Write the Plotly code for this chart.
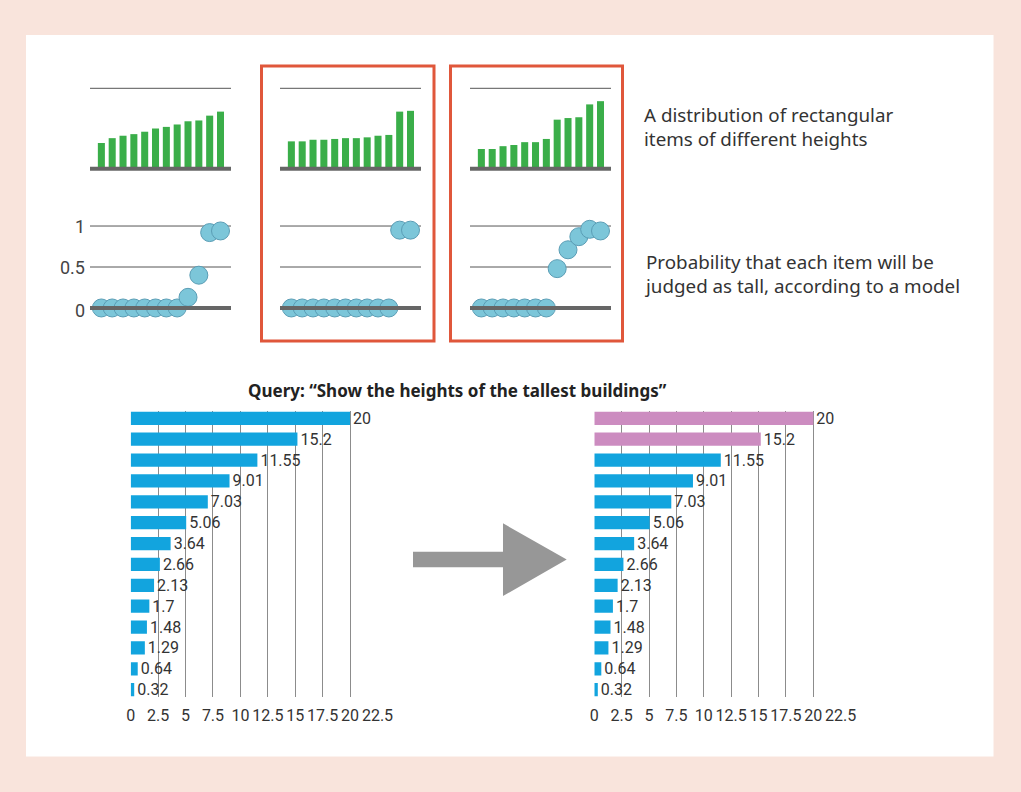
import plotly.graph_objects as go

W, H = 1021, 792

# ---------------- data ----------------
item_index = list(range(12))
heights_a = [0.32, 0.38, 0.41, 0.43, 0.46, 0.50, 0.52, 0.55, 0.59, 0.60, 0.66, 0.71]
heights_b = [0.34, 0.34, 0.36, 0.36, 0.37, 0.38, 0.38, 0.39, 0.41, 0.42, 0.71, 0.72]
heights_c = [0.245, 0.245, 0.28, 0.295, 0.33, 0.33, 0.37, 0.61, 0.63, 0.64, 0.80, 0.84]

prob_a = [0, 0, 0, 0, 0, 0, 0, 0, 0.13, 0.40, 0.92, 0.94]
prob_b = [0, 0, 0, 0, 0, 0, 0, 0, 0, 0, 0.95, 0.95]
prob_c = [0, 0, 0, 0, 0, 0, 0, 0.48, 0.71, 0.87, 0.96, 0.94]

prob_ticks = [0, 0.5, 1]
prob_tick_labels = ["0", "0.5", "1"]

building_heights = [20, 15.2, 11.55, 9.01, 7.03, 5.06, 3.64, 2.66, 2.13, 1.7, 1.48, 1.29, 0.64, 0.32]
building_rank = list(range(len(building_heights)))
n_selected = 2
x_ticks = [0, 2.5, 5, 7.5, 10, 12.5, 15, 17.5, 20, 22.5]
x_tick_labels = ["0", "2.5", "5", "7.5", "10", "12.5", "15", "17.5", "20", "22.5"]

title_text = "Query: \u201cShow the heights of the tallest buildings\u201d"
desc_top = "A distribution of rectangular<br>items of different heights"
desc_bottom = "Probability that each item will be<br>judged as tall, according to a model"

# ---------------- styles ----------------
FONT = "Noto Sans"
NUM_FONT = "Roboto"
TXT = "#333333"
GREEN = "#3aae49"
DOT = "#7cc6d9"
DOT_LINE = "#5a9db5"
BLUE = "#12a4de"
PINK = "#cc8cc0"
RED = "#e0573b"
PINK_BG = "#f9e4dc"


def px(x):
    return x / W


def py(y):
    return 1 - y / H


fig = go.Figure()

top_x_domains = [(90, 231), (280, 421), (470, 611)]
heights_all = [heights_a, heights_b, heights_c]
probs_all = [prob_a, prob_b, prob_c]

layout_axes = {}
shapes = []

for k in range(3):
    xa = k + 1
    xs = "" if xa == 1 else str(xa)
    fig.add_trace(go.Bar(x=item_index, y=heights_all[k], marker=dict(color=GREEN, line=dict(width=0)),
                         width=0.65, xaxis="x" + xs, yaxis="y" + xs, showlegend=False, hoverinfo="skip"))
    d0, d1 = top_x_domains[k]
    layout_axes["xaxis" + xs] = dict(domain=[px(d0), px(d1)], range=[-1.05, 11.97], visible=False,
                                     anchor="y" + xs, fixedrange=True, automargin=False)
    layout_axes["yaxis" + xs] = dict(domain=[py(171.1), py(85.9)], range=[-0.03, 1.03], visible=False,
                                     anchor="x" + xs, fixedrange=True, automargin=False)
    shapes.append(dict(type="line", xref="x" + xs + " domain", yref="y" + xs, x0=0, x1=1, y0=1, y1=1,
                       line=dict(color="#555555", width=1), layer="below"))
    shapes.append(dict(type="line", xref="x" + xs + " domain", yref="y" + xs, x0=0, x1=1, y0=0, y1=0,
                       line=dict(color="#666666", width=4), layer="above"))

    # probability dots
    xb = k + 4
    xs2 = str(xb)
    fig.add_trace(go.Scatter(x=item_index, y=probs_all[k], mode="markers",
                             marker=dict(size=18, color=DOT, line=dict(color=DOT_LINE, width=1)),
                             xaxis="x" + xs2, yaxis="y" + xs2, showlegend=False, hoverinfo="skip",
                             cliponaxis=False))
    layout_axes["xaxis" + xs2] = dict(domain=[px(d0), px(d1)], range=[-1.05, 11.97], visible=False,
                                      anchor="y" + xs2, fixedrange=True, automargin=False)
    layout_axes["yaxis" + xs2] = dict(domain=[py(317.8), py(216.2)], range=[-0.12, 1.12], visible=False,
                                      anchor="x" + xs2, fixedrange=True, automargin=False)
    for yv in (1, 0.5):
        shapes.append(dict(type="line", xref="x" + xs2 + " domain", yref="y" + xs2, x0=0, x1=1, y0=yv, y1=yv,
                           line=dict(color="#555555", width=1), layer="below"))
    shapes.append(dict(type="line", xref="x" + xs2 + " domain", yref="y" + xs2, x0=0, x1=1, y0=0, y1=0,
                       line=dict(color="#666666", width=4), layer="above"))

# bottom bar charts
bottom_domains = [(130.7, 377.5), (594.3, 840.7)]
for j in range(2):
    xs = str(7 + j)
    if j == 0:
        colors = [BLUE] * len(building_heights)
    else:
        colors = [PINK if i < n_selected else BLUE for i in building_rank]
    fig.add_trace(go.Bar(x=building_heights, y=building_rank, orientation="h",
                         marker=dict(color=colors, line=dict(width=0)), width=0.64,
                         text=[f"{v:g}" for v in building_heights], textposition="outside",
                         constraintext="none",
                         textfont=dict(family=NUM_FONT, size=16, color=TXT), cliponaxis=False,
                         xaxis="x" + xs, yaxis="y" + xs, showlegend=False, hoverinfo="skip"))
    d0, d1 = bottom_domains[j]
    layout_axes["xaxis" + xs] = dict(domain=[px(d0), px(d1)], range=[0, 22.5], tickvals=x_ticks,
                                     ticktext=x_tick_labels, showgrid=True, gridcolor="#8c8c8c", gridwidth=1,
                                     zeroline=False, showline=False, ticks="", tickangle=0,
                                     ticklabelstandoff=7,
                                     tickfont=dict(family=NUM_FONT, size=16, color=TXT),
                                     anchor="y" + xs, fixedrange=True, automargin=False)
    layout_axes["yaxis" + xs] = dict(domain=[py(697), py(411)], range=[13.35, -0.35], visible=False,
                                     anchor="x" + xs, fixedrange=True, automargin=False)

# background panel
shapes.insert(0, dict(type="rect", xref="paper", yref="paper", x0=px(26), x1=px(993.5), y0=py(756.5), y1=py(35),
                      fillcolor="white", line=dict(width=0), layer="below"))
# red boxes
for (x0, x1) in [(261.5, 434), (450.5, 622.5)]:
    shapes.append(dict(type="rect", xref="paper", yref="paper", x0=px(x0), x1=px(x1), y0=py(341), y1=py(66),
                       line=dict(color=RED, width=3), fillcolor="rgba(0,0,0,0)", layer="above"))
# arrow
arrow_pts = [(413, 551.7), (503, 551.7), (503, 523.3), (566.7, 559.5), (503, 596), (503, 567.3), (413, 567.3)]
path = "M " + " L ".join(f"{px(a):.5f},{py(b):.5f}" for a, b in arrow_pts) + " Z"
shapes.append(dict(type="path", xref="paper", yref="paper", path=path, fillcolor="#979797",
                   line=dict(width=0), layer="above"))

annotations = []
for v, lab in zip(prob_ticks, prob_tick_labels):
    annotations.append(dict(x=px(87), xref="paper", y=v, yref="y4", text=lab, showarrow=False,
                            xanchor="right", yanchor="middle", yshift=-3 if v == 0 else 0,
                            font=dict(family=NUM_FONT, size=18, color="#444444")))
annotations.append(dict(x=px(642), xref="paper", y=py(127), yref="paper", text=desc_top, showarrow=False,
                        xanchor="left", yanchor="middle", align="left",
                        font=dict(family=FONT, size=18.8, color=TXT)))
annotations.append(dict(x=px(642), xref="paper", y=py(274), yref="paper", text=desc_bottom, showarrow=False,
                        xanchor="left", yanchor="middle", align="left",
                        font=dict(family=FONT, size=18.8, color=TXT)))
annotations.append(dict(x=px(457), xref="paper", y=py(390), yref="paper", text="<b>" + title_text + "</b>",
                        showarrow=False, xanchor="center", yanchor="middle",
                        font=dict(family=FONT, size=17, color="#222222")))

fig.update_layout(width=W, height=H, margin=dict(l=0, r=0, t=0, b=0, autoexpand=False), paper_bgcolor=PINK_BG,
                  plot_bgcolor="rgba(0,0,0,0)", shapes=shapes, annotations=annotations,
                  bargap=0.36, font=dict(family=FONT, color=TXT), **layout_axes)

fig.write_html("out.html", config={"displayModeBar": False})
